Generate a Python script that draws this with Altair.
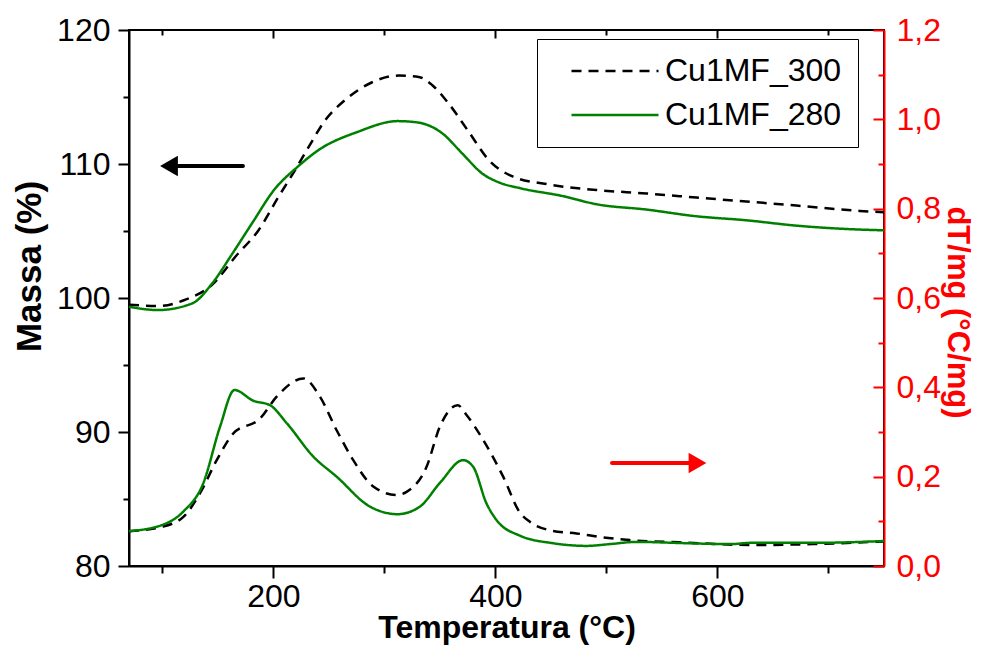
import altair as alt
import pandas as pd

# ---------------- data ----------------
series = ["Cu1MF_300", "Cu1MF_280"]

# mass (%) - left axis
mass300_T = [70, 96, 120, 145, 166, 187, 205, 220, 232, 247, 265, 289, 313, 331, 343, 358, 376, 394, 416, 446, 491, 536, 581, 626, 671, 728, 750]
mass300_v = [99.5, 99.4, 99.85, 101.0, 103.1, 105.1, 107.6, 109.6, 111.3, 113.3, 114.8, 116.1, 116.6, 116.5, 115.9, 114.5, 112.4, 110.3, 109.05, 108.5, 108.06, 107.8, 107.5, 107.2, 106.9, 106.5, 106.4]
mass280_T = [70, 96, 127, 145, 163, 181, 201, 222, 240, 276, 312, 330, 352, 370, 388, 404, 422, 461, 491, 536, 581, 626, 671, 716, 750]
mass280_v = [99.35, 99.1, 99.6, 101.1, 103.3, 105.6, 108.1, 109.8, 111.0, 112.4, 113.2, 113.1, 112.3, 110.8, 109.3, 108.6, 108.2, 107.6, 107.0, 106.6, 106.1, 105.8, 105.4, 105.15, 105.05]

# dT/mg (°C/mg) - right axis
dtg300_T = [70, 100, 119, 134, 149, 164, 188, 203, 227, 242, 257, 272, 290, 311, 320, 338, 350, 366, 374, 389, 407, 422, 431, 449, 473, 497, 521, 566, 632, 686, 750]
dtg300_v = [0.078, 0.088, 0.11, 0.163, 0.237, 0.297, 0.33, 0.379, 0.42, 0.379, 0.304, 0.237, 0.178, 0.159, 0.166, 0.222, 0.312, 0.36, 0.338, 0.282, 0.2, 0.12, 0.099, 0.08, 0.073, 0.064, 0.058, 0.053, 0.047, 0.049, 0.055]
dtg280_T = [70, 100, 119, 137, 152, 165, 182, 197, 212, 236, 257, 287, 312, 332, 350, 371, 380, 392, 401, 422, 452, 482, 503, 527, 572, 611, 632, 692, 750]
dtg280_v = [0.078, 0.092, 0.122, 0.186, 0.312, 0.394, 0.37, 0.36, 0.32, 0.245, 0.2, 0.133, 0.116, 0.133, 0.186, 0.237, 0.222, 0.14, 0.103, 0.068, 0.051, 0.045, 0.049, 0.054, 0.051, 0.049, 0.052, 0.052, 0.056]

# arrows (data coordinates)
arrow_mass_T = [106, 172.6]
arrow_mass_v = [109.85]
arrow_dtg_T = [505, 582]
arrow_dtg_v = [0.2306]

x_ticks = [100, 200, 300, 400, 500, 600, 700]
mass_ticks = [80, 85, 90, 95, 100, 105, 110, 115, 120]
dtg_ticks = [0.0, 0.1, 0.2, 0.3, 0.4, 0.5, 0.6, 0.7, 0.8, 0.9, 1.0, 1.1, 1.2]
# ---------------------------------------------------------------

mass_df = pd.concat([
    pd.DataFrame({"T": mass300_T, "v": mass300_v, "series": series[0]}),
    pd.DataFrame({"T": mass280_T, "v": mass280_v, "series": series[1]}),
])
dtg_df = pd.concat([
    pd.DataFrame({"T": dtg300_T, "v": dtg300_v, "series": series[0]}),
    pd.DataFrame({"T": dtg280_T, "v": dtg280_v, "series": series[1]}),
])
am_df = pd.DataFrame({"T": [arrow_mass_T[0]], "T2": [arrow_mass_T[1]], "v": arrow_mass_v})
ad_df = pd.DataFrame({"T": [arrow_dtg_T[0]], "T2": [arrow_dtg_T[1]], "v": arrow_dtg_v})

FONT = "Liberation Sans"
W, H = 755, 536
GREEN = "#008000"
RED = "#ff0000"


def xs():
    return alt.Scale(domain=[70, 750], nice=False, zero=False)


def ys_mass():
    return alt.Scale(domain=[80, 120], nice=False, zero=False)


def ys_dtg():
    return alt.Scale(domain=[0, 1.2], nice=False, zero=False)


legend = alt.Legend(
    title=None, orient="none", legendX=408, legendY=9,
    symbolType="M-1,0L5,0", symbolSize=841, symbolStrokeWidth=2.5, symbolOffset=17,
    labelFont=FONT, labelFontSize=32, labelColor="black", labelOffset=63, labelLimit=400,
    labelExpr="datum.label + '\u00a0\u00a0'",
    strokeColor="black", fillColor="white", padding=16, rowPadding=12,
)
color_enc = alt.Color("series:N", scale=alt.Scale(domain=series, range=["#000000", GREEN]), legend=legend)
dash_enc = alt.StrokeDash("series:N", scale=alt.Scale(domain=series, range=[[10, 7], [1, 0]]), legend=legend)

x_bottom_axis = alt.Axis(
    values=x_ticks, title="Temperatura (°C)", orient="bottom",
    labelExpr="datum.value % 200 == 0 ? datum.label : ''",
    tickSize={"condition": {"test": "datum.value % 200 != 0", "value": 7}, "value": 12},
    labelPadding=3, titlePadding=0, grid=False,
)

mass_lines = alt.Chart(mass_df).mark_line(strokeWidth=2.5, interpolate="monotone").encode(
    x=alt.X("T:Q", scale=xs(), axis=x_bottom_axis),
    y=alt.Y("v:Q", scale=ys_mass(), axis=alt.Axis(
        values=mass_ticks, title="Massa (%)", orient="left", titleY=236, titleFontSize=35,
        labelExpr="datum.value % 10 == 0 ? datum.label : ''",
        tickSize={"condition": {"test": "datum.value % 10 != 0", "value": 6}, "value": 11},
        labelPadding=8, titlePadding=9, grid=False,
    )),
    color=color_enc, strokeDash=dash_enc, order="T:Q",
)

dtg_lines = alt.Chart(dtg_df).mark_line(strokeWidth=2.5, interpolate="monotone").encode(
    x=alt.X("T:Q", scale=xs(), axis=None),
    y=alt.Y("v:Q", scale=ys_dtg(), axis=alt.Axis(
        values=[0.0, 0.2, 0.4, 0.6, 0.8, 1.0, 1.2], title="dT/mg (°C/mg)", orient="right", titleY=282,
        titleFontSize=31,
        labelExpr="replace(format(datum.value, '.1f'), '.', ',')",
        ticks=False, labelPadding=12, titlePadding=0, grid=False,
        domainColor=RED, labelColor=RED, titleColor=RED,
    )),
    color=color_enc, strokeDash=dash_enc, order="T:Q",
)

# inward ticks for the right axis (same scale domain)
dtg_inner_ticks = alt.Chart(dtg_df).mark_line(opacity=0).encode(
    x=alt.X("T:Q", scale=xs(), axis=None),
    y=alt.Y("v:Q", scale=ys_dtg(), axis=alt.Axis(
        values=dtg_ticks, title=None, orient="left", offset=-W,
        labels=False, domain=False, grid=False, tickColor=RED,
        tickSize={"condition": {"test": "round(datum.value*10) % 2 != 0", "value": 6}, "value": 11},
    )),
)

# inward ticks on the top border
top_ticks = alt.Chart(mass_df).mark_line(opacity=0).encode(
    x=alt.X("T:Q", scale=xs(), axis=alt.Axis(
        values=x_ticks, title=None, orient="bottom", offset=-H,
        labels=False, domain=False, grid=False,
        tickSize={"condition": {"test": "datum.value % 200 != 0", "value": 5}, "value": 8},
    )),
    y=alt.Y("v:Q", scale=ys_mass(), axis=None),
)

arrow_mass_line = alt.Chart(am_df).mark_rule(color="black", strokeWidth=4, strokeCap="round").encode(
    x=alt.X("T:Q", scale=xs(), axis=None), x2="T2:Q",
    y=alt.Y("v:Q", scale=ys_mass(), axis=None),
)
arrow_mass_head = alt.Chart(am_df).mark_point(shape="triangle-left", filled=True, color="black", size=420, opacity=1).encode(
    x=alt.X("T:Q", scale=xs(), axis=None),
    y=alt.Y("v:Q", scale=ys_mass(), axis=None),
)
arrow_dtg_line = alt.Chart(ad_df).mark_rule(color=RED, strokeWidth=4, strokeCap="round").encode(
    x=alt.X("T:Q", scale=xs(), axis=None), x2="T2:Q",
    y=alt.Y("v:Q", scale=ys_dtg(), axis=None),
)
arrow_dtg_head = alt.Chart(ad_df).mark_point(shape="triangle-right", filled=True, color=RED, size=420, opacity=1).encode(
    x=alt.X("T2:Q", scale=xs(), axis=None),
    y=alt.Y("v:Q", scale=ys_dtg(), axis=None),
)

chart = alt.layer(
    top_ticks, dtg_inner_ticks, mass_lines, dtg_lines,
    arrow_mass_line, arrow_mass_head, arrow_dtg_line, arrow_dtg_head,
).resolve_scale(x="independent", y="independent").resolve_axis(x="independent", y="independent").properties(
    width=W, height=H,
    autosize=alt.AutoSizeParams(type="none"),
    padding={"left": 121, "top": 22, "right": 92, "bottom": 80},
).configure_view(
    stroke="black", strokeWidth=2,
).configure_axis(
    labelFont=FONT, labelFontSize=32, labelColor="black",
    titleFont=FONT, titleFontSize=32, titleFontWeight="bold", titleColor="black",
    domainColor="black", domainWidth=2, tickColor="black", tickWidth=2,
)

chart.save("out.html", embed_options={"renderer": "svg", "actions": False})
